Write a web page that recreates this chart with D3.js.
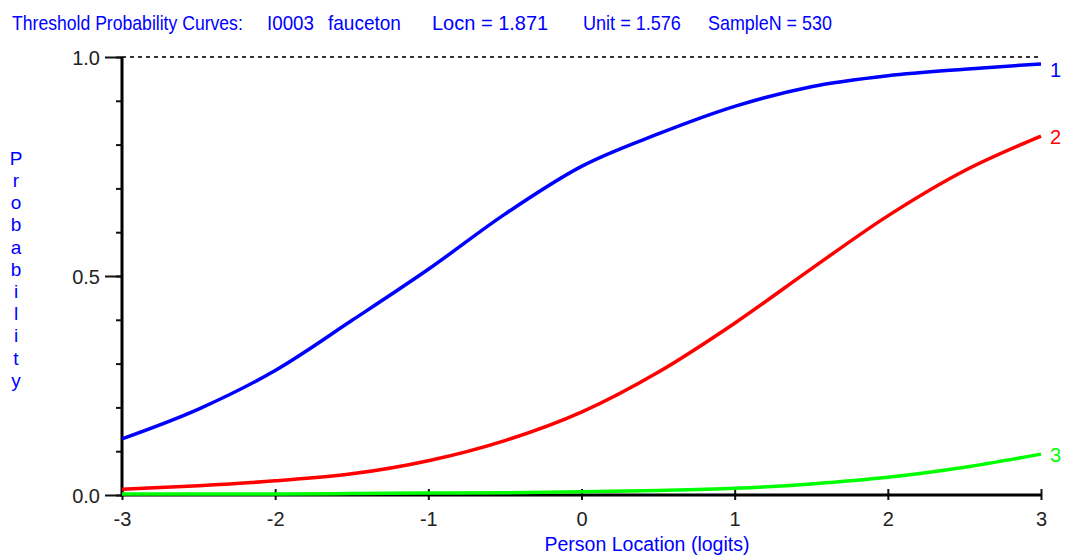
<!DOCTYPE html>
<html>
<head>
<meta charset="utf-8">
<script src="https://cdn.jsdelivr.net/npm/d3@7"></script>
<style>
    body { margin: 0; background: #fff; }
    svg { display: block; font-family: "Liberation Sans", Arial, sans-serif; }
</style>
</head>
<body>
<div id="container"></div>
<script>
const locations = [-3, -2.5, -2, -1.5, -1, -0.5, 0, 0.5, 1, 1.5, 2, 2.5, 3];
// Threshold probabilities
const threshold1 = [0.126, 0.194, 0.282, 0.396, 0.513, 0.639, 0.748, 0.822, 0.885, 0.930, 0.955, 0.970, 0.982];
const threshold2 = [0.011, 0.019, 0.030, 0.046, 0.076, 0.122, 0.187, 0.278, 0.390, 0.514, 0.635, 0.738, 0.817];
const threshold3 = [0.000, 0.000, 0.000, 0.001, 0.002, 0.003, 0.005, 0.008, 0.013, 0.023, 0.038, 0.061, 0.091];
const seriesNames = ["1", "2", "3"];
const seriesColors = ["#0000ff", "#ff0000", "#00ff00"];
const xTicks = [-3, -2, -1, 0, 1, 2, 3];
const yMajorTicks = [0, 0.5, 1];
const titleParts = ["Threshold Probability Curves:", "I0003", "fauceton", "Locn = 1.871", "Unit = 1.576", "SampleN = 530"];

const width = 1066, height = 560;
const marginLeft = 122, marginRight = 25, marginTop = 57, marginBottom = 65;

const x = d3.scaleLinear().domain([-3, 3]).range([marginLeft, width - marginRight]);
const y = d3.scaleLinear().domain([0, 1]).range([height - marginBottom, marginTop]);

const svg = d3.select("#container").append("svg")
    .attr("width", width)
    .attr("height", height);

// squeeze a text horizontally so it gets the tall, narrow look of the original font
function squeeze(sel, x0, y0, w, anchor) {
    sel.each(function() {
        const natural = this.getComputedTextLength();
        const sx = Math.min(1, w / natural);
        const left = anchor === "middle" ? x0 - w / 2 : x0;
        d3.select(this)
            .attr("x", 0).attr("y", 0)
            .attr("transform", `translate(${left},${y0}) scale(${sx},1)`);
    });
}

// Title, pieces placed like the original
const titleX = [12, 267, 328, 432, 583, 708];
const titleW = [231, 47, 73, 120, 98, 124];
svg.append("g").selectAll("text")
    .data(titleParts)
    .join("text")
    .attr("fill", "#0000ff")
    .style("font-size", "20px")
    .text(d => d)
    .each(function(d, i) { squeeze(d3.select(this), titleX[i], 30, titleW[i]); });

// dashed line at probability 1.0
svg.append("line")
    .attr("x1", x(-3)).attr("x2", x(3))
    .attr("y1", y(1)).attr("y2", y(1))
    .attr("stroke", "#333")
    .attr("stroke-width", 2)
    .attr("stroke-dasharray", "4,4");

// y-axis, minor ticks
svg.append("g")
    .attr("transform", `translate(${marginLeft},0)`)
    .call(d3.axisLeft(y).tickValues(d3.range(0, 11).map(i => i / 10)).tickSize(6).tickFormat(""))
    .call(g => g.select(".domain").remove())
    .call(g => g.selectAll("line").attr("stroke", "#111").attr("stroke-width", 2));

// y-axis, major ticks + labels
svg.append("g")
    .attr("transform", `translate(${marginLeft},0)`)
    .call(d3.axisLeft(y).tickValues(yMajorTicks).tickSize(17).tickPadding(5).tickFormat(d3.format(".1f")))
    .call(g => g.select(".domain").remove())
    .call(g => g.selectAll("line").attr("stroke", "#111").attr("stroke-width", 2))
    .call(g => g.selectAll("text").attr("fill", "#222").style("font-size", "20px").attr("dy", "0.36em"));

// x-axis
svg.append("g")
    .attr("transform", `translate(0,${y(0)})`)
    .call(d3.axisBottom(x).tickValues(xTicks).tickSize(5).tickPadding(12).tickFormat(d3.format("d")))
    .call(g => g.select(".domain").remove())
    .call(g => g.selectAll("line").attr("y1", -6).attr("stroke", "#111").attr("stroke-width", 2))
    .call(g => g.selectAll("text").attr("fill", "#222").style("font-size", "20px").text(d => d < 0 ? "-" + Math.abs(d) : d));

// axis lines
svg.append("line")
    .attr("x1", x(-3)).attr("x2", x(3))
    .attr("y1", y(0)).attr("y2", y(0))
    .attr("stroke", "#000").attr("stroke-width", 3);
svg.append("line")
    .attr("x1", x(-3)).attr("x2", x(-3))
    .attr("y1", y(1)).attr("y2", y(0) + 1.5)
    .attr("stroke", "#000").attr("stroke-width", 3);

// curves
const series = [threshold1, threshold2, threshold3];
const line = d3.line()
    .x((d, i) => x(locations[i]))
    .y(d => y(d) - 1)
    .curve(d3.curveMonotoneX);

series.forEach((values, k) => {
    svg.append("path")
        .datum(values)
        .attr("fill", "none")
        .attr("stroke", seriesColors[k])
        .attr("stroke-width", 3.5)
        .attr("d", line);

    const last = values[values.length - 1];
    svg.append("text")
        .attr("x", x(3) + 9)
        .attr("y", y(last) + (k === 0 ? 5 : 0))
        .attr("dy", "0.36em")
        .attr("fill", seriesColors[k])
        .style("font-size", "20px")
        .text(seriesNames[k]);
});

// axis titles
svg.append("text")
    .attr("fill", "#0000ff")
    .style("font-size", "20px")
    .text("Person Location (logits)")
    .call(s => squeeze(s, 647, 551, 205, "middle"));

const yTitle = "Probability".split("");
svg.append("g").selectAll("text")
    .data(yTitle)
    .join("text")
    .attr("x", 16)
    .attr("y", (d, i) => 158 + i * 22.2)
    .attr("dy", "0.36em")
    .attr("text-anchor", "middle")
    .attr("fill", "#0000ff")
    .style("font-size", "19px")
    .text(d => d);
</script>
</body>
</html>
